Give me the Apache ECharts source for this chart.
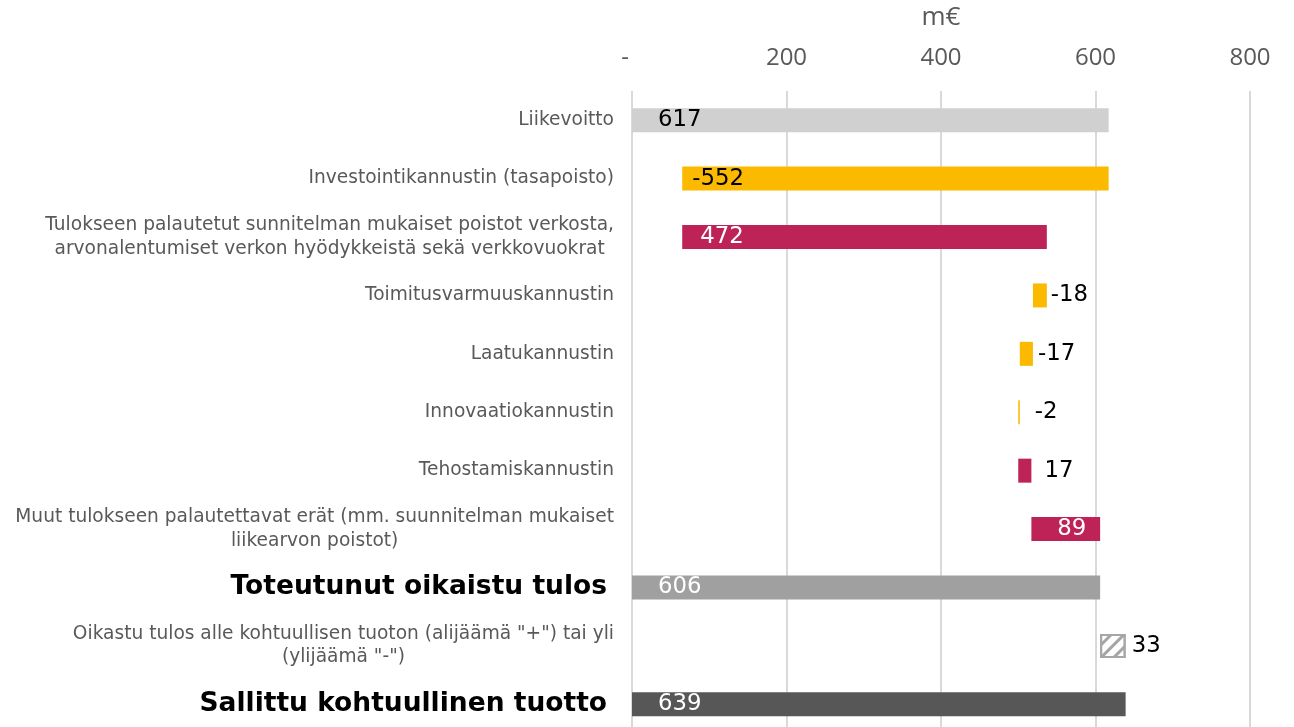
<!DOCTYPE html>
<html>
<head>
<meta charset="utf-8">
<script src="https://cdn.jsdelivr.net/npm/echarts@6/dist/echarts.min.js"></script>
<style>
html,body{margin:0;padding:0;background:#fff;overflow:hidden;}
#chart{width:1294px;height:745px;}
</style>
</head>
<body>
<div id="chart"></div>
<script>
// ---- DATA ----
var categories = [
  'Liikevoitto',
  'Investointikannustin (tasapoisto)',
  'Tulokseen palautetut sunnitelman mukaiset poistot verkosta,\narvonalentumiset verkon hyödykkeistä sekä verkkovuokrat',
  'Toimitusvarmuuskannustin',
  'Laatukannustin',
  'Innovaatiokannustin',
  'Tehostamiskannustin',
  'Muut tulokseen palautettavat erät (mm. suunnitelman mukaiset\nliikearvon poistot)',
  'Toteutunut oikaistu tulos',
  'Oikastu tulos alle kohtuullisen tuoton (alijäämä "+") tai yli\n(ylijäämä "-")',
  'Sallittu kohtuullinen tuotto'
];
var values = [617, -552, 472, -18, -17, -2, 17, 89, 606, 33, 639];
var kinds = ['start', 'delta', 'delta', 'delta', 'delta', 'delta', 'delta', 'delta', 'subtotal', 'gap', 'total'];
var boldCategories = ['Toteutunut oikaistu tulos', 'Sallittu kohtuullinen tuotto'];
var xTicks = [0, 200, 400, 600, 800];

// ---- STYLES ----
var kindColors = { start: '#d0d0d0', subtotal: '#a0a0a0', total: '#575757' };
var posColor = '#be2357', negColor = '#fbb900';
var labelStyles = [
  { position: 'insideLeft', distance: 26, color: '#000' },
  { position: 'insideLeft', distance: 10, color: '#000' },
  { position: 'insideLeft', distance: 18, color: '#fff' },
  { position: 'right', distance: 4, color: '#000' },
  { position: 'right', distance: 5, color: '#000' },
  { position: 'right', distance: 15, color: '#000' },
  { position: 'right', distance: 13, color: '#000' },
  { position: 'insideRight', distance: 14, color: '#fff' },
  { position: 'insideLeft', distance: 26, color: '#fff' },
  { position: 'right', distance: 6, color: '#000' },
  { position: 'insideLeft', distance: 26, color: '#fff' }
];

// ---- WATERFALL ----
var baseData = [], barData = [];
var running = 0;
values.forEach(function (v, i) {
  var k = kinds[i];
  var base, len;
  if (k === 'start' || k === 'subtotal' || k === 'total') {
    base = 0; len = v; running = v;
  } else {
    if (v < 0) { base = running + v; len = -v; }
    else { base = running; len = v; }
    running += v;
  }
  baseData.push(base);
  var item = { value: len, label: Object.assign({ show: true }, labelStyles[i]) };
  if (k === 'gap') {
    item.itemStyle = {
      color: '#ffffff', borderColor: '#a6a6a6', borderWidth: 2,
      decal: { symbol: 'rect', symbolSize: 1, dashArrayX: [1, 0], dashArrayY: [3, 6], rotation: -Math.PI / 4, color: '#a6a6a6' }
    };
  } else if (k === 'delta') {
    item.itemStyle = { color: v < 0 ? negColor : posColor };
  } else {
    item.itemStyle = { color: kindColors[k] };
  }
  barData.push(item);
});

var chart = echarts.init(document.getElementById('chart'), null, { renderer: 'canvas' });
chart.setOption({
  animation: false,
  backgroundColor: '#ffffff',
  grid: { left: 632, top: 88.5, width: 618, height: 645, containLabel: false },
  xAxis: {
    type: 'value', position: 'top', min: xTicks[0], max: xTicks[xTicks.length - 1], interval: 200,
    name: 'm€', nameLocation: 'middle', nameGap: 60,
    nameTextStyle: { fontFamily: 'Open Sans', fontSize: 26, color: '#595959' },
    axisLine: { show: false }, axisTick: { show: false },
    axisLabel: {
      margin: 21, fontFamily: 'Open Sans', fontSize: 24, color: '#595959',
      formatter: function (v) { return v === 0 ? '{d|-}' : String(v); },
      rich: { d: { fontFamily: 'Open Sans', fontSize: 24, color: '#595959', padding: [0, 14, 0, 0] } }
    },
    splitLine: { show: true, lineStyle: { color: '#d9d9d9', width: 2 } }
  },
  yAxis: {
    type: 'category', inverse: true, data: categories,
    axisLine: { show: false }, axisTick: { show: false },
    axisLabel: {
      margin: 18, align: 'right',
      formatter: function (v) {
        var tag = boldCategories.indexOf(v) >= 0 ? 'b' : 'n';
        return v.split('\n').map(function (l) { return '{' + tag + '|' + l + '}'; }).join('\n');
      },
      rich: {
        n: { fontFamily: 'DejaVu Sans', fontSize: 18.6, color: '#595959', align: 'center', lineHeight: 23.5 },
        b: { fontFamily: 'DejaVu Sans', fontSize: 26.5, fontWeight: 'bold', color: '#000', align: 'center', lineHeight: 30, padding: [0, 7, 0, 0] }
      }
    }
  },
  series: [
    {
      type: 'bar', stack: 'w', data: baseData, barWidth: 24,
      itemStyle: { color: 'transparent' }, silent: true, label: { show: false }
    },
    {
      type: 'bar', stack: 'w', data: barData, barWidth: 24,
      label: {
        show: true, fontFamily: 'DejaVu Sans', fontSize: 22.8,
        formatter: function (p) { return String(values[p.dataIndex]); }
      }
    }
  ]
});
</script>
</body>
</html>
